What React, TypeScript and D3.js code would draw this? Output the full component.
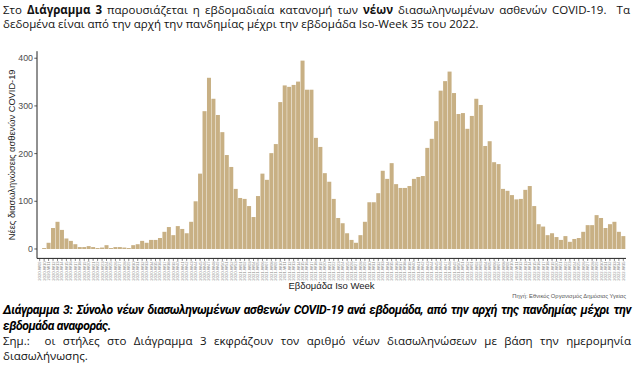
import React, { useRef, useLayoutEffect } from "react";
import * as d3 from "d3";

// Weekly new intubated COVID-19 patients, 2020-W09 .. 2022-W35
const years = [2020, 2021, 2022];
const firstWeek = [9, 1, 1];
const lastWeek = [53, 52, 35];

const values = [
  0, 2, 13, 44, 57, 40, 22, 17, 10, 4,
  4, 6, 4, 2, 3, 8, 2, 4, 4, 3,
  2, 8, 10, 17, 13, 19, 19, 23, 36, 46,
  29, 48, 42, 33, 57, 100, 158, 289, 359, 315,
  281, 245, 197, 172, 126, 107, 105, 90, 67, 111,
  158, 145, 201, 220, 308, 343, 340, 344, 351, 395,
  334, 334, 233, 214, 159, 141, 105, 65, 54, 33,
  19, 13, 29, 57, 98, 98, 117, 164, 147, 180,
  136, 128, 128, 132, 147, 151, 153, 212, 231, 268,
  332, 352, 372, 327, 283, 285, 252, 279, 315, 302,
  216, 226, 182, 178, 126, 122, 113, 104, 105, 124,
  132, 90, 52, 47, 29, 33, 25, 19, 27, 15,
  21, 23, 36, 50, 50, 71, 65, 44, 52, 57,
  36, 27,
];

const yTicks = [0, 100, 200, 300, 400];

const weeks: string[] = [];
years.forEach((yr, i) => {
  for (let w = firstWeek[i]; w <= lastWeek[i]; w++) {
    weeks.push(`${yr}-W${String(w).padStart(2, "0")}`);
  }
});

const BODY_FONT = "'Open Sans', 'Noto Sans', sans-serif";
const CAP_FONT = "Roboto, 'Open Sans', sans-serif";
const CHART_FONT = "'Liberation Sans', Arial, sans-serif";

function JLine(props: {
  x: number;
  y: number;
  width: number;
  justify?: boolean;
  style?: React.CSSProperties;
  children: React.ReactNode;
}) {
  const ref = useRef<SVGTextElement>(null);
  useLayoutEffect(() => {
    const el = ref.current;
    if (!el || !props.justify) return;
    el.setAttribute("word-spacing", "0");
    const len = el.getComputedTextLength();
    const spaces = (el.textContent || "").split(" ").length - 1;
    const extra = spaces > 0 ? (props.width - len) / spaces : 0;
    el.setAttribute("word-spacing", String(Math.max(0, extra)));
  });
  return (
    <text
      ref={ref}
      x={props.x}
      y={props.y}
      style={{ whiteSpace: "pre", ...props.style }}
    >
      {props.children}
    </text>
  );
}

export default function App() {
  const W = 640;
  const H = 369;
  const left = 37;
  const right = 626;
  const top = 51.2;
  const bottom = 258.4;

  const x = d3
    .scaleBand<string>()
    .domain(weeks)
    .range([left, right])
    .paddingInner(0.1)
    .paddingOuter(0.15);

  const y = d3.scaleLinear().domain([-19.75, 414.75]).range([bottom, top]);

  const bodyStyle: React.CSSProperties = {
    fontFamily: BODY_FONT,
    fontSize: 11.5,
    fill: "#111",
  };
  const capStyle: React.CSSProperties = {
    fontFamily: CAP_FONT,
    fontSize: 12.2,
    fontWeight: 700,
    fontStyle: "italic",
    letterSpacing: -0.4,
    fill: "#000",
  };

  return (
    <svg
      width={W}
      height={H}
      style={{ position: "absolute", left: 0, top: 0, background: "#fff" }}
    >
      <rect x={0} y={0} width={W} height={H} fill="#fff" />
      {/* intro paragraph */}
      <JLine x={3} y={14} width={627} justify style={bodyStyle}>
        Στο <tspan fontWeight={700}>Διάγραμμα 3</tspan> παρουσιάζεται η
        εβδομαδιαία κατανομή των <tspan fontWeight={700}>νέων</tspan>{" "}
        διασωληνωμένων ασθενών COVID-19.{"  "}Τα
      </JLine>
      <JLine x={3} y={28} width={627} style={bodyStyle}>
        δεδομένα είναι από την αρχή την πανδημίας μέχρι την εβδομάδα Iso-Week
        35 του 2022.
      </JLine>

      {/* bars */}
      {values.map((v, i) => (
        <rect
          key={weeks[i]}
          x={x(weeks[i])}
          width={x.bandwidth()}
          y={y(Math.max(v, 0))}
          height={Math.max(0, y(0) - y(v))}
          fill="#c8b084"
        />
      ))}

      {/* axes */}
      <line x1={left} x2={left} y1={top} y2={bottom} stroke="#222" strokeWidth={1} />
      <line x1={left} x2={right} y1={bottom} y2={bottom} stroke="#222" strokeWidth={1} />
      {yTicks.map((t) => (
        <g key={t}>
          <line x1={left - 2.7} x2={left} y1={y(t)} y2={y(t)} stroke="#333" strokeWidth={0.8} />
          <text
            x={left - 4}
            y={y(t)}
            dy="0.35em"
            textAnchor="end"
            style={{ fontFamily: CHART_FONT, fontSize: 8.8, fill: "#4d4d4d" }}
          >
            {t}
          </text>
        </g>
      ))}
      {weeks.map((w) => {
        const cx = (x(w) as number) + x.bandwidth() / 2;
        return (
          <g key={w}>
            <line x1={cx} x2={cx} y1={bottom} y2={bottom + 2.5} stroke="#333" strokeWidth={0.6} />
            <text
              transform={`translate(${cx},${bottom + 3}) rotate(-90)`}
              dy="0.35em"
              textAnchor="end"
              style={{ fontFamily: CHART_FONT, fontSize: 4.2, fill: "#8a8a8a" }}
            >
              {w}
            </text>
          </g>
        );
      })}

      <text
        transform={`translate(15,${(top + bottom) / 2}) rotate(-90)`}
        textAnchor="middle"
        style={{ fontFamily: CHART_FONT, fontSize: 9.3, fill: "#1a1a1a" }}
      >
        Νέες διασωληνώσεις ασθενών COVID-19
      </text>
      <text
        x={(left + right) / 2}
        y={289}
        textAnchor="middle"
        style={{ fontFamily: CHART_FONT, fontSize: 9.5, fill: "#1a1a1a" }}
      >
        Εβδομάδα Iso Week
      </text>
      <text
        x={right}
        y={298}
        textAnchor="end"
        style={{ fontFamily: CHART_FONT, fontSize: 5.8, fill: "#555" }}
      >
        Πηγή: Εθνικός Οργανισμός Δημόσιας Υγείας
      </text>

      {/* caption */}
      <JLine x={3} y={314} width={628} justify style={capStyle}>
        Διάγραμμα 3: Σύνολο νέων διασωληνωμένων ασθενών COVID-19 ανά εβδομάδα,
        από την αρχή της πανδημίας μέχρι την
      </JLine>
      <JLine x={3} y={330} width={628} style={capStyle}>
        εβδομάδα αναφοράς.
      </JLine>
      <JLine x={3} y={345} width={628} justify style={bodyStyle}>
        Σημ.:{"  "}οι στήλες στο Διάγραμμα 3 εκφράζουν τον αριθμό νέων
        διασωληνώσεων με βάση την ημερομηνία
      </JLine>
      <JLine x={3} y={360} width={628} style={bodyStyle}>
        διασωλήνωσης.
      </JLine>
    </svg>
  );
}
